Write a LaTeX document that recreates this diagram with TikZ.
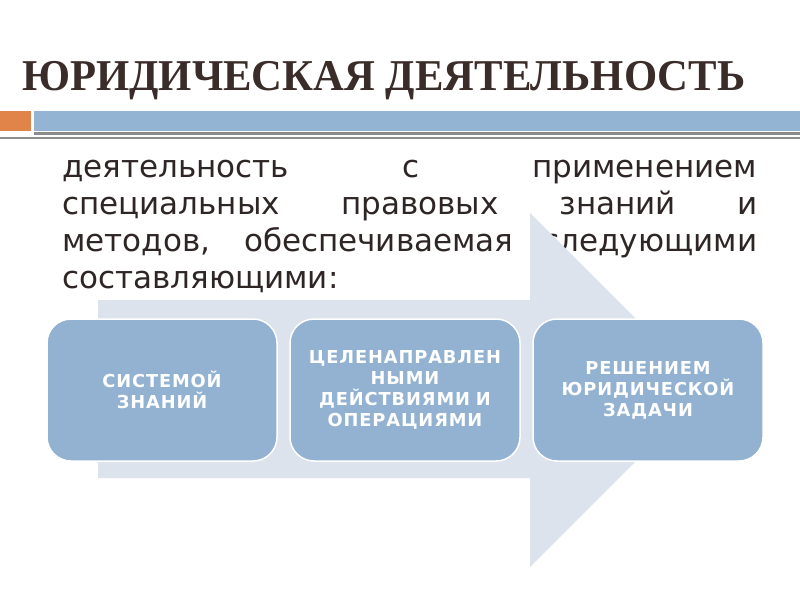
\documentclass[tikz,border=0pt]{standalone}
\usepackage{fontspec}
\setmainfont{DejaVu Sans}
\newfontfamily\titlefont[FakeStretch=0.97]{Liberation Serif}
\newfontfamily\stagefont[LetterSpace=5]{DejaVu Sans}
\usetikzlibrary{positioning}

\definecolor{titlebrown}{HTML}{3A2C28}
\definecolor{bodytext}{HTML}{2E2624}
\definecolor{barorange}{HTML}{E0844A}
\definecolor{barblue}{HTML}{94B4D3}
\definecolor{bargray}{HTML}{8C8C8C}
\definecolor{arrowfill}{HTML}{DCE3EC}
\definecolor{boxblue}{HTML}{93B2D2}

\tikzset{
  stage/.style={draw=white, line width=1.5pt, fill=boxblue, rounded corners=24pt,
    minimum width=230pt, minimum height=142pt, text width=215pt, align=center,
    text=white, inner sep=0pt, font=\stagefont\fontsize{17.8}{21}\selectfont\bfseries},
}

\begin{document}
\begin{tikzpicture}[x=1pt,y=1pt]
\useasboundingbox (0,0) rectangle (800,-600);
% title and bars
\node[anchor=base west, inner sep=0pt, text=titlebrown,
  font=\titlefont\bfseries\fontsize{44}{44}\selectfont] (title) at (22,-90)
  {ЮРИДИЧЕСКАЯ ДЕЯТЕЛЬНОСТЬ};
\fill[barorange] (0,-111) rectangle (31,-131);
\fill[barblue] (34,-111) rectangle (800,-131);
\fill[bargray] (34,-132) rectangle (800,-135);
\fill[bargray] (0,-137) rectangle (800,-139);
% definition
\node[anchor=base west, inner sep=0pt, text width=695pt, align=justify, text=bodytext,
  font=\fontsize{31}{37}\selectfont] (definition) at (62,-177)
  {\tolerance=10000 деятельность с применением\linebreak
   специальных правовых знаний и\linebreak
   методов, обеспечиваемая следующими\linebreak
   составляющими:};
% big arrow behind the stages
\fill[arrowfill] (98,-300) -- (530,-300) -- (530,-213) -- (707,-390)
  -- (530,-567) -- (530,-478) -- (98,-478) -- cycle;
% stages
\node[stage] (system) at (162,-390) {СИСТЕМОЙ\\ЗНАНИЙ};
\node[stage, right=11.5pt of system] (actions)
  {ЦЕЛЕНАПРАВЛЕН\\НЫМИ\\ДЕЙСТВИЯМИ И\\ОПЕРАЦИЯМИ};
\node[stage, right=11.5pt of actions] (solution)
  {РЕШЕНИЕМ\\ЮРИДИЧЕСКОЙ\\ЗАДАЧИ};
\end{tikzpicture}
\end{document}
